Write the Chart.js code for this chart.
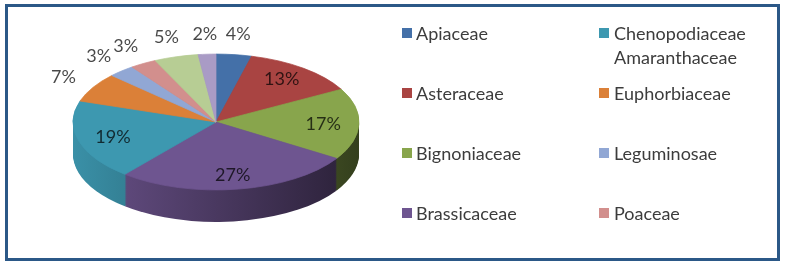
<!DOCTYPE html>
<html>
<head>
<meta charset="utf-8">
<script src="https://cdn.jsdelivr.net/npm/chart.js@4.4.0/dist/chart.umd.min.js"></script>
<style>
    html, body { margin: 0; padding: 0; background: #fff; }
    body { width: 787px; height: 266px; position: relative; overflow: hidden; font-family: Lato, 'Open Sans', sans-serif; }
    #frame { position: absolute; left: 5px; top: 4px; width: 769px; height: 251px; border: 3px solid #2b5887; }
    #pie { position: absolute; left: 0; top: 0; }
    #legend { position: absolute; left: 0; top: 0; width: 787px; height: 266px; z-index: 2; }
    .item { position: absolute; font-size: 18px; color: #3c3c3c; line-height: 24px; width: 165px; }
    .box { position: absolute; width: 10px; height: 10px; }
</style>
</head>
<body>
<div id="frame"></div>
<canvas id="pie" width="787" height="266"></canvas>
<div id="legend"></div>
<script>
// Plant families (the legend in the source only shows the first 8)
const families = ['Apiaceae', 'Asteraceae', 'Bignoniaceae', 'Brassicaceae',
    'Chenopodiaceae Amaranthaceae', 'Euphorbiaceae', 'Leguminosae', 'Poaceae', '', ''];
const shares = [4, 13, 17, 27, 19, 7, 3, 3, 5, 2];
const sliceColors = ['#4470a8', '#a94442', '#88a54c', '#6e5590', '#3d98b0',
    '#db8038', '#91a7d4', '#d28f8d', '#b7cd94', '#a99bc5'];
const legendCount = 8;

// 3d look
const tilt = 0.475;
const depth = 32;

function shade(hex, f) {
    const n = parseInt(hex.slice(1), 16);
    const r = Math.round(((n >> 16) & 255) * f);
    const g = Math.round(((n >> 8) & 255) * f);
    const b = Math.round((n & 255) * f);
    return `rgb(${r},${g},${b})`;
}

const pie3d = {
    id: 'pie3d',
    beforeDatasetsDraw(chart) {
        const ctx = chart.ctx;
        const arcs = chart.getDatasetMeta(0).data;
        const cx = arcs[0].x, cy = arcs[0].y, r = arcs[0].outerRadius;

        // side walls: stack darker copies of the slices below the top face
        const sides = sliceColors.map(c => {
            const g = ctx.createLinearGradient(cx - r, 0, cx + r, 0);
            g.addColorStop(0, shade(c, 0.95));
            g.addColorStop(1, shade(c, 0.38));
            return g;
        });
        for (let d = depth; d > 0; d--) {
            ctx.save();
            ctx.translate(cx, cy + d);
            ctx.scale(1, tilt);
            ctx.translate(-cx, -cy);
            arcs.forEach((arc, i) => {
                ctx.beginPath();
                ctx.moveTo(cx, cy);
                ctx.arc(cx, cy, r, arc.startAngle, arc.endAngle);
                ctx.closePath();
                ctx.fillStyle = sides[i];
                ctx.fill();
            });
            ctx.restore();
        }

        // squash the top face
        ctx.save();
        ctx.translate(cx, cy);
        ctx.scale(1, tilt);
        ctx.translate(-cx, -cy);
    },
    afterDatasetsDraw(chart) {
        const ctx = chart.ctx;
        ctx.restore();

        const arcs = chart.getDatasetMeta(0).data;
        const values = chart.data.datasets[0].data;
        ctx.save();
        ctx.font = '18px Lato';
        ctx.textAlign = 'center';
        ctx.textBaseline = 'middle';
        ctx.fillStyle = 'rgba(0,0,0,0.72)';
        arcs.forEach((arc, i) => {
            const mid = (arc.startAngle + arc.endAngle) / 2;
            const r = arc.outerRadius;
            // big slices get the label inside, small ones outside
            let fx = 0.75, fy = 0.8;
            if (values[i] < 10) { fx = 1.24; fy = 1.3; }
            const x = arc.x + Math.cos(mid) * r * fx;
            const y = arc.y + Math.sin(mid) * r * tilt * fy;
            ctx.fillText(values[i] + '%', x, y);
        });
        ctx.restore();
    }
};

new Chart(document.getElementById('pie'), {
    type: 'pie',
    data: {
        labels: families,
        datasets: [{
            data: shares,
            backgroundColor: sliceColors,
            borderColor: sliceColors,
            borderWidth: 1
        }]
    },
    options: {
        responsive: false,
        animation: false,
        events: [],
        radius: 143,
        layout: {
            padding: { left: 0, right: 355, top: 0, bottom: 22 }
        },
        plugins: {
            legend: { display: false },
            tooltip: { enabled: false }
        }
    },
    plugins: [pie3d]
});

// Legend, two columns of four like the source
const legend = document.getElementById('legend');
for (let i = 0; i < legendCount; i++) {
    const col = Math.floor(i / 4);
    const row = i % 4;
    const yc = 33 + row * 60;

    const box = document.createElement('div');
    box.className = 'box';
    box.style.left = (402 + col * 197) + 'px';
    box.style.top = (yc - 5) + 'px';
    box.style.background = sliceColors[i];
    legend.appendChild(box);

    const text = document.createElement('div');
    text.className = 'item';
    text.style.left = (416 + col * 198) + 'px';
    text.style.top = (yc - 12) + 'px';
    text.textContent = families[i];
    legend.appendChild(text);
}
</script>
</body>
</html>
